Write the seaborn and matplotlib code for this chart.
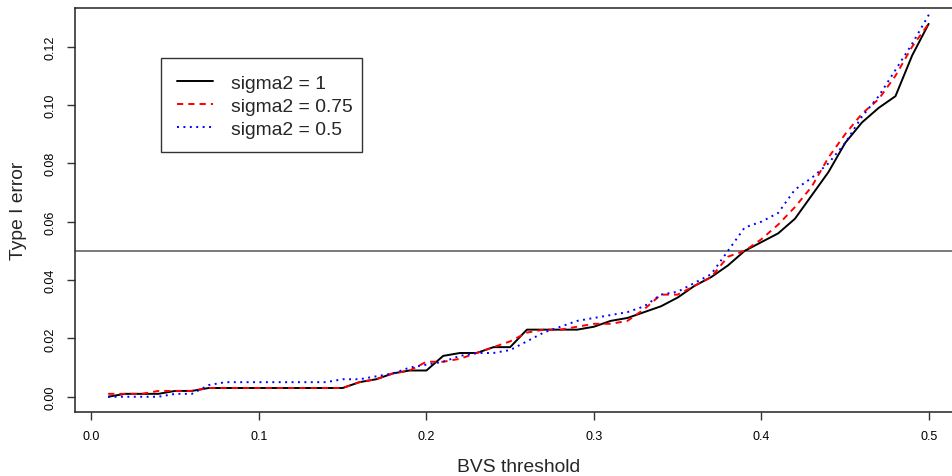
import matplotlib
matplotlib.use("Agg")
import matplotlib.pyplot as plt
from matplotlib.patches import Rectangle
from matplotlib.lines import Line2D
import seaborn as sns
import pandas as pd

# BVS threshold grid
threshold = [0.01, 0.02, 0.03, 0.04, 0.05, 0.06, 0.07, 0.08, 0.09, 0.10,
             0.11, 0.12, 0.13, 0.14, 0.15, 0.16, 0.17, 0.18, 0.19, 0.20,
             0.21, 0.22, 0.23, 0.24, 0.25, 0.26, 0.27, 0.28, 0.29, 0.30,
             0.31, 0.32, 0.33, 0.34, 0.35, 0.36, 0.37, 0.38, 0.39, 0.40,
             0.41, 0.42, 0.43, 0.44, 0.45, 0.46, 0.47, 0.48, 0.49, 0.50]

# Type I error for each noise variance
err_s1 = [0.000, 0.001, 0.001, 0.001, 0.002, 0.002, 0.003, 0.003, 0.003, 0.003,
          0.003, 0.003, 0.003, 0.003, 0.003, 0.005, 0.006, 0.008, 0.009, 0.009,
          0.014, 0.015, 0.015, 0.017, 0.017, 0.023, 0.023, 0.023, 0.023, 0.024,
          0.026, 0.027, 0.029, 0.031, 0.034, 0.038, 0.041, 0.045, 0.050, 0.053,
          0.056, 0.061, 0.069, 0.077, 0.087, 0.094, 0.099, 0.103, 0.117, 0.128]

err_s075 = [0.001, 0.001, 0.001, 0.002, 0.002, 0.002, 0.003, 0.003, 0.003, 0.003,
            0.003, 0.003, 0.003, 0.003, 0.003, 0.005, 0.006, 0.008, 0.009, 0.012,
            0.012, 0.013, 0.015, 0.017, 0.019, 0.022, 0.023, 0.023, 0.024, 0.025,
            0.025, 0.026, 0.030, 0.035, 0.035, 0.038, 0.041, 0.048, 0.050, 0.054,
            0.059, 0.065, 0.072, 0.082, 0.090, 0.097, 0.102, 0.110, 0.120, 0.128]

err_s05 = [0.000, 0.000, 0.000, 0.000, 0.001, 0.001, 0.004, 0.005, 0.005, 0.005,
           0.005, 0.005, 0.005, 0.005, 0.006, 0.006, 0.007, 0.008, 0.010, 0.011,
           0.012, 0.014, 0.015, 0.015, 0.016, 0.019, 0.022, 0.024, 0.026, 0.027,
           0.028, 0.029, 0.031, 0.035, 0.036, 0.039, 0.042, 0.050, 0.058, 0.060,
           0.063, 0.071, 0.075, 0.080, 0.087, 0.096, 0.103, 0.112, 0.121, 0.131]

series_labels = ["sigma2 = 1", "sigma2 = 0.75", "sigma2 = 0.5"]
nominal_level = 0.05

x_ticks = [0.0, 0.1, 0.2, 0.3, 0.4, 0.5]
x_tick_labels = ["0.0", "0.1", "0.2", "0.3", "0.4", "0.5"]
y_ticks = [0.00, 0.02, 0.04, 0.06, 0.08, 0.10, 0.12]
y_tick_labels = ["0.00", "0.02", "0.04", "0.06", "0.08", "0.10", "0.12"]

df = pd.concat([
    pd.DataFrame({"threshold": threshold, "error": vals, "series": lab})
    for vals, lab in zip([err_s1, err_s075, err_s05], series_labels)
], ignore_index=True)

sns.set_style("white")
plt.rcParams["font.family"] = ["Liberation Sans", "DejaVu Sans"]

W, H = 952, 477
fig = plt.figure(figsize=(W / 100, H / 100), dpi=100)
# plot region in pixels: left 75.3, right 961.8 (runs past the canvas), top 9.3, bottom 412.7
ax = fig.add_axes([75.3 / W, 1 - 412.7 / H, (961.8 - 75.3) / W, (412.7 - 9.3) / H])

palette = {series_labels[0]: "#000000", series_labels[1]: "#FF0000", series_labels[2]: "#0000FF"}
dash_styles = {series_labels[0]: "", series_labels[1]: (3.2, 2.6), series_labels[2]: (1.0, 2.3)}

sns.lineplot(data=df, x="threshold", y="error", hue="series", style="series",
             palette=palette, dashes=dash_styles, linewidth=1.4, ax=ax,
             legend=False, estimator=None, sort=False)
for ln in ax.lines:
    ln.set_dash_capstyle("butt")
    ln.set_solid_capstyle("butt")

ax.axhline(nominal_level, color="#707070", linewidth=1.3, zorder=1)

ax.set_xlim(-0.0096, 0.5196)
ax.set_ylim(-0.00512, 0.13312)

ax.set_xticks(x_ticks)
ax.set_xticklabels(x_tick_labels)
ax.set_yticks(y_ticks)
ax.set_yticklabels(y_tick_labels, rotation=90, va="center")
ax.tick_params(axis="both", which="major", direction="out", length=5.8, width=1.0,
               color="#333333", labelsize=9, labelcolor="#000000",
               bottom=True, left=True)
ax.tick_params(axis="x", pad=7.5)
ax.tick_params(axis="y", pad=8)

for sp in ax.spines.values():
    sp.set_visible(True)
    sp.set_color("#222222")
    sp.set_linewidth(1.1)

ax.set_xlabel("BVS threshold", fontsize=13.9, va="center")
ax.xaxis.set_label_coords(0.5, -(468 - 412.7) / 403.4)
ax.set_ylabel("Type I error", fontsize=13.9, va="center")
ax.yaxis.set_label_coords((19 - 75.3) / 886.5, 0.5)

# legend box, drawn in pixel coordinates of the canvas
fig.patches.append(Rectangle((160.7 / W, 1 - 152.7 / H), (362 - 160.7) / W, (152.7 - 59.3) / H,
                             transform=fig.transFigure, fill=False,
                             edgecolor="#333333", linewidth=1.0))
handles = [Line2D([0], [0], color=palette[lab], linewidth=1.4,
                  dashes=dash_styles[lab] if dash_styles[lab] else (None, None),
                  dash_capstyle="butt")
           for lab in series_labels]
handles[0].set_linestyle("-")
leg = fig.legend(handles, series_labels, loc="upper left",
                 bbox_to_anchor=(177 / W, 1 - 75.5 / H), bbox_transform=fig.transFigure,
                 frameon=False, fontsize=13.9, borderpad=0, borderaxespad=0,
                 handlelength=1.85, handletextpad=0.93, labelspacing=0.28)

fig.savefig("out.png", dpi=100)
